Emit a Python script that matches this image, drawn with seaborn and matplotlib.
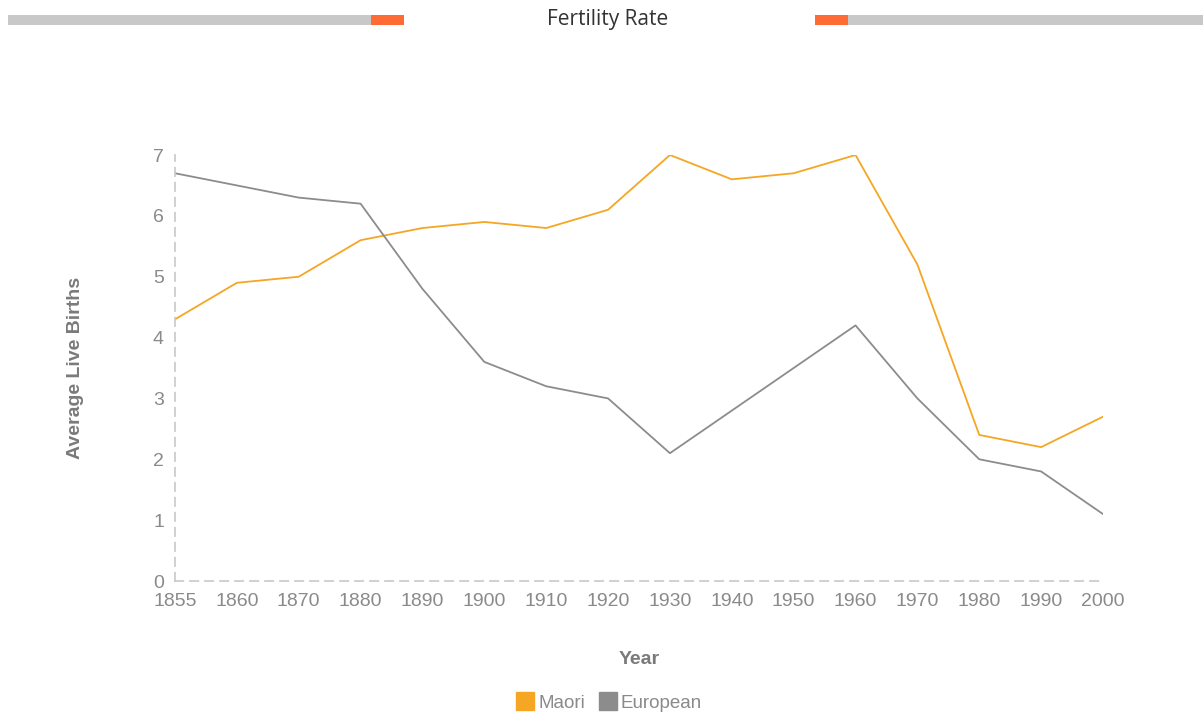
import matplotlib
matplotlib.use("Agg")
import matplotlib.pyplot as plt
from matplotlib.patches import Rectangle
from matplotlib.lines import Line2D
import seaborn as sns
import pandas as pd

years = ["1855", "1860", "1870", "1880", "1890", "1900", "1910", "1920",
         "1930", "1940", "1950", "1960", "1970", "1980", "1990", "2000"]
maori = [4.3, 4.9, 5.0, 5.6, 5.8, 5.9, 5.8, 6.1, 7.0, 6.6, 6.7, 7.0, 5.2, 2.4, 2.2, 2.7]
european = [6.7, 6.5, 6.3, 6.2, 4.8, 3.6, 3.2, 3.0, 2.1, 2.8, 3.5, 4.2, 3.0, 2.0, 1.8, 1.1]
series_names = ["Maori", "European"]
series_colors = ["#F5A623", "#8C8C8C"]
yticks = [0, 1, 2, 3, 4, 5, 6, 7]

df = pd.DataFrame({
    "Year": years * 2,
    "Value": maori + european,
    "Series": [series_names[0]] * len(years) + [series_names[1]] * len(years),
})

sns.set_theme(style="white")
plt.rcParams['font.family'] = ['Liberation Sans', 'DejaVu Sans']

fig = plt.figure(figsize=(12.03, 7.13), dpi=100)
ax = fig.add_axes([175/1203, 1 - 581/713, (1103 - 175)/1203, (581 - 155)/713])

sns.lineplot(data=df, x="Year", y="Value", hue="Series",
             palette=dict(zip(series_names, series_colors)),
             linewidth=1.3, ax=ax, legend=False, sort=False)

ax.set_xlim(0, len(years) - 1)
ax.set_ylim(0, 7)
ax.set_yticks(yticks)
ax.set_yticklabels([str(t) for t in yticks])
ax.set_xticks(range(len(years)))
ax.set_xticklabels(years)

tick_color = "#8a8a8a"
ax.tick_params(axis="both", length=0, labelsize=14, labelcolor=tick_color)
ax.tick_params(axis="y", pad=8)
ax.tick_params(axis="x", pad=9)

for s in ["top", "right"]:
    ax.spines[s].set_visible(False)
for s in ["left", "bottom"]:
    ax.spines[s].set_visible(True)
    ax.spines[s].set_color("#c8c8c8")
    ax.spines[s].set_linestyle((0, (5, 4)))
    ax.spines[s].set_linewidth(1.2)

ax.set_xlabel("Year", fontsize=14, fontweight="bold", color="#7a7a7a", labelpad=29)
ax.set_ylabel("Average Live Births", fontsize=14, fontweight="bold", color="#7a7a7a")
ax.yaxis.set_label_coords((84 - 175) / 928, 0.5)

# Title
fig.text(608/1203, 1 - 20/713, "Fertility Rate", ha="center", va="center",
         fontsize=15, color="#333333", family="Open Sans")

# Decorative bars
bar_y = 1 - 25/713
bar_h = 10/713
fig.add_artist(Rectangle((8/1203, bar_y), (371 - 8)/1203, bar_h, transform=fig.transFigure,
                         facecolor="#c8c8c8", edgecolor="none"))
fig.add_artist(Rectangle((371/1203, bar_y), 33/1203, bar_h, transform=fig.transFigure,
                         facecolor="#FF6B35", edgecolor="none"))
fig.add_artist(Rectangle((815/1203, bar_y), 33/1203, bar_h, transform=fig.transFigure,
                         facecolor="#FF6B35", edgecolor="none"))
fig.add_artist(Rectangle((848/1203, bar_y), (1203 - 848)/1203, bar_h, transform=fig.transFigure,
                         facecolor="#c8c8c8", edgecolor="none"))

# Legend
handles = [Line2D([0], [0], marker="s", linestyle="none", markersize=13,
                  markerfacecolor=c, markeredgecolor=c) for c in series_colors]
leg = fig.legend(handles, series_names, loc="center", bbox_to_anchor=(609/1203, 1 - 703/713),
                 ncol=2, frameon=False, fontsize=13.5, handletextpad=0.2, columnspacing=0.7,
                 handlelength=1.0)
for t in leg.get_texts():
    t.set_color("#8a8a8a")

fig.savefig("out.png", dpi=100, facecolor="white")
